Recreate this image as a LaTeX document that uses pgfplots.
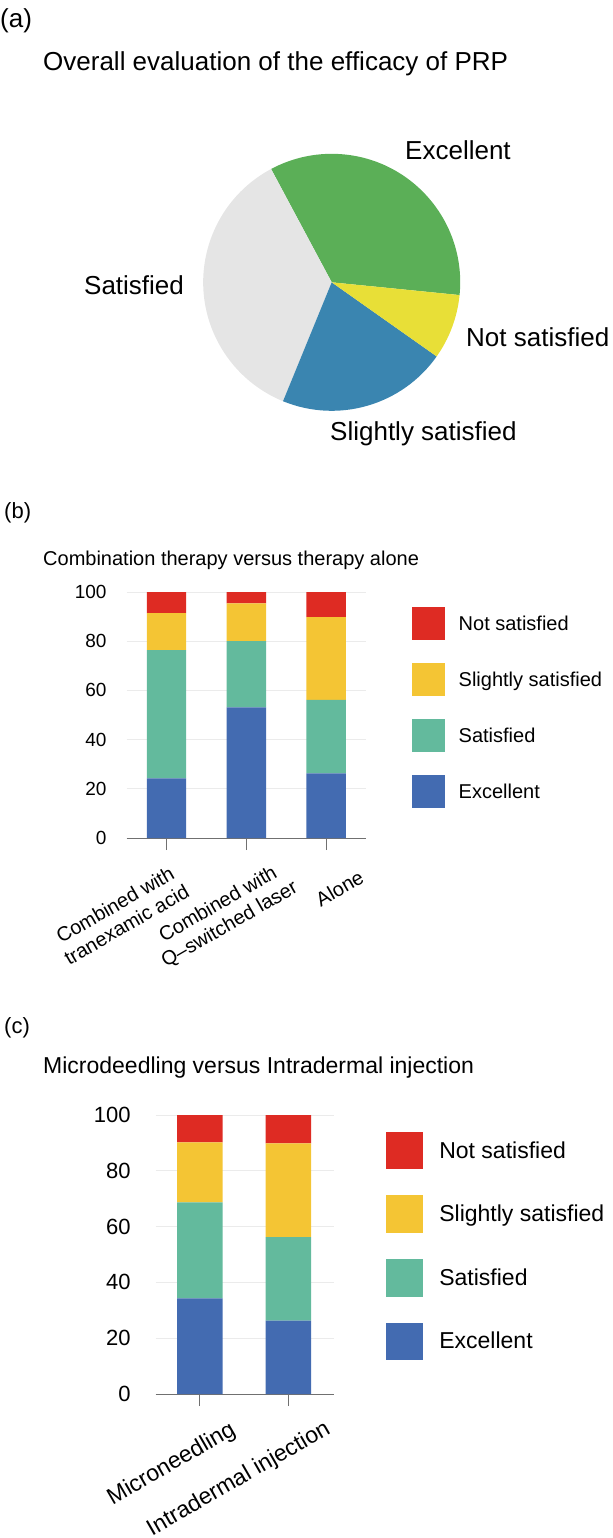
\documentclass[border=0pt]{standalone}
\usepackage{fontspec}
\setmainfont{Liberation Sans}
\usepackage{pgfplots}
\pgfplotsset{compat=1.18}
\usepackage{pgfplotstable}

\definecolor{cNot}{HTML}{DE2B23}
\definecolor{cSl}{HTML}{F4C534}
\definecolor{cSat}{HTML}{63BA9D}
\definecolor{cExc}{HTML}{436BB1}
\definecolor{pGreen}{HTML}{5BAF57}
\definecolor{pYellow}{HTML}{E8DF37}
\definecolor{pBlue}{HTML}{3A85B0}
\definecolor{pGrey}{HTML}{E5E5E5}
\definecolor{gridc}{HTML}{EBEBEB}
\definecolor{axc}{HTML}{707070}

\newcommand\fs[1]{\fontsize{#1bp}{1.15\dimexpr#1bp\relax}\selectfont}

% panel (b): combination therapy vs therapy alone (percent)
\pgfplotstableread{
x Exc Sat Sl Not
0 24.2 52.2 15.0 8.6
1 53.1 26.9 15.4 4.6
2 26.3 29.9 33.6 10.2
}\tabB
% panel (c): microneedling vs intradermal injection (percent)
\pgfplotstableread{
x Exc Sat Sl Not
0 34.3 34.4 21.5 9.8
1 26.3 29.9 33.6 10.2
}\tabC
% panel (a): pie (percent)
\def\pieExc{34.4}
\def\pieSat{36.0}
\def\pieSl{21.4}
\def\pieNot{8.2}
\def\pieStart{-5.7}

\pgfplotsset{
  stackbars/.style={
    scale only axis, anchor=south west, clip=false,
    ymin=0, ymax=100,
    ybar stacked,
    axis x line*=bottom, axis y line*=left,
    y axis line style={draw=none},
    x axis line style={draw=axc, line width=0.9bp},
    xtick={0,1,2}, xticklabels={},
    xtick style={draw=axc, line width=0.9bp},
    major tick length=12bp, tick align=outside,
    ytick={0,20,...,100}, ytick style={draw=none},
    ymajorgrids, grid style={gridc, line width=0.7bp},
    /pgf/number format/assume math mode=true,
    yticklabel style={anchor=east, inner sep=0pt},
    reverse legend,
    legend cell align=left,
  },
}

\begin{document}
\begin{tikzpicture}
\useasboundingbox (0,0) rectangle (613bp,-1538bp);

% ---------------- (a) pie ----------------
\node[anchor=base west, inner sep=0pt, font=\fs{26}] at (0bp,-27.5bp) {(a)};
\node[anchor=base west, inner sep=0pt, font=\fs{26}] at (43bp,-70bp) {Overall evaluation of the efficacy of PRP};

\pgfmathsetmacro\aA{\pieStart}
\pgfmathsetmacro\aB{\aA+3.6*\pieExc}
\pgfmathsetmacro\aC{\aB+3.6*\pieSat}
\pgfmathsetmacro\aD{\aC+3.6*\pieSl}
\pgfmathsetmacro\aE{\aD+3.6*\pieNot}
\begin{axis}[hide axis, scale only axis, x=128.5bp, y=128.5bp,
  xmin=-1, xmax=1, ymin=-1, ymax=1,
  at={(331.7bp,-282.3bp)}, anchor=center, clip=false]
  \fill[pGreen]  (axis cs:0,0) -- (axis cs:{cos(\aA)},{sin(\aA)}) arc[start angle=\aA, end angle=\aB, radius=128.5bp] -- cycle;
  \fill[pGrey]   (axis cs:0,0) -- (axis cs:{cos(\aB)},{sin(\aB)}) arc[start angle=\aB, end angle=\aC, radius=128.5bp] -- cycle;
  \fill[pBlue]   (axis cs:0,0) -- (axis cs:{cos(\aC)},{sin(\aC)}) arc[start angle=\aC, end angle=\aD, radius=128.5bp] -- cycle;
  \fill[pYellow] (axis cs:0,0) -- (axis cs:{cos(\aD)},{sin(\aD)}) arc[start angle=\aD, end angle=\aE, radius=128.5bp] -- cycle;
\end{axis}
\node[anchor=base west, inner sep=0pt, font=\fs{26}] at (405bp,-159bp) {Excellent};
\node[anchor=base west, inner sep=0pt, font=\fs{26}] at (84bp,-294bp) {Satisfied};
\node[anchor=base west, inner sep=0pt, font=\fs{26}] at (466bp,-346bp) {Not satisfied};
\node[anchor=base west, inner sep=0pt, font=\fs{26}] at (330bp,-440bp) {Slightly satisfied};

% ---------------- (b) ----------------
\node[anchor=base west, inner sep=0pt, font=\fs{22}] at (4bp,-518.5bp) {(b)};
\node[anchor=base west, inner sep=0pt, font=\fs{20}] at (43bp,-565bp) {Combination therapy versus therapy alone};

\begin{axis}[stackbars,
  at={(126.7bp,-838bp)}, width=239.3bp, height=246bp,
  xmin=-0.5, xmax=2.5, bar width=0.493,
  yticklabel style={font=\fs{19}, xshift=-8bp},
  legend image code/.code={\fill[#1, draw=none] (0bp,-16.5bp) rectangle (33bp,16.5bp);},
  legend style={at={(1.191,0.938)}, anchor=north west, draw=none, fill=none,
    inner sep=0pt, outer sep=0pt, row sep=23bp, column sep=14bp,
    font=\fs{20}, nodes={inner sep=0pt}},
]
  \addplot[fill=cExc, draw=none] table[x=x, y=Exc] {\tabB};
  \addplot[fill=cSat, draw=none] table[x=x, y=Sat] {\tabB};
  \addplot[fill=cSl,  draw=none] table[x=x, y=Sl]  {\tabB};
  \addplot[fill=cNot, draw=none] table[x=x, y=Not] {\tabB};
  \legend{Excellent, Satisfied, Slightly satisfied, Not satisfied}
  \node[rotate=30, anchor=north east, align=center, inner sep=0pt, font=\fs{20}]
    at ([xshift=5.5bp, yshift=-25bp]axis cs:0,0) {Combined with\\tranexamic acid};
  \node[rotate=30, anchor=north east, align=center, inner sep=0pt, font=\fs{20}]
    at ([xshift=34bp, yshift=-20.5bp]axis cs:1,0) {Combined with\\Q\textendash switched laser};
  \node[rotate=30, anchor=north east, align=center, inner sep=0pt, font=\fs{20}]
    at ([xshift=32bp, yshift=-31bp]axis cs:2,0) {Alone};
\end{axis}

% ---------------- (c) ----------------
\node[anchor=base west, inner sep=0pt, font=\fs{22}] at (4bp,-1033bp) {(c)};
\node[anchor=base west, inner sep=0pt, font=\fs{23}] at (43bp,-1073bp) {Microdeedling versus Intradermal injection};

\begin{axis}[stackbars,
  at={(155.7bp,-1394bp)}, width=178.6bp, height=279bp,
  xmin=-0.5, xmax=1.52, bar width=0.515, xtick={0,1},
  yticklabel style={font=\fs{22}, xshift=-13bp},
  legend image code/.code={\fill[#1, draw=none] (0bp,-18.8bp) rectangle (37.6bp,18.8bp);},
  legend style={at={(1.288,0.940)}, anchor=north west, draw=none, fill=none,
    inner sep=0pt, outer sep=0pt, row sep=26bp, column sep=16bp,
    font=\fs{23}, nodes={inner sep=0pt}},
]
  \addplot[fill=cExc, draw=none] table[x=x, y=Exc] {\tabC};
  \addplot[fill=cSat, draw=none] table[x=x, y=Sat] {\tabC};
  \addplot[fill=cSl,  draw=none] table[x=x, y=Sl]  {\tabC};
  \addplot[fill=cNot, draw=none] table[x=x, y=Not] {\tabC};
  \legend{Excellent, Satisfied, Slightly satisfied, Not satisfied}
  \node[rotate=30, anchor=north east, inner sep=0pt, font=\fs{23}]
    at ([xshift=28.5bp, yshift=-25bp]axis cs:0,0) {Microneedling};
  \node[rotate=30, anchor=north east, inner sep=0pt, font=\fs{23}]
    at ([xshift=35bp, yshift=-24bp]axis cs:1,0) {Intradermal injection};
\end{axis}
\end{tikzpicture}
\end{document}
